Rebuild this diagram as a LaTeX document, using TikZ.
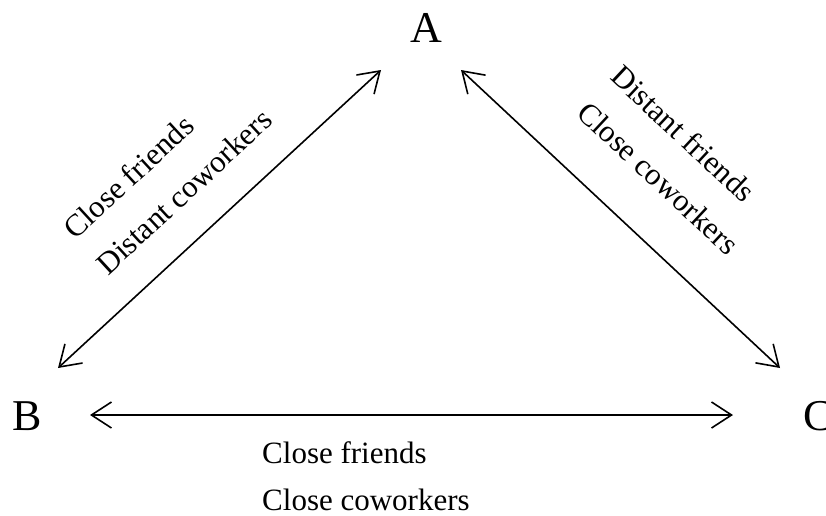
\documentclass[tikz,border=0pt]{standalone}
\usepackage{fontspec}
\setmainfont{Liberation Serif}
\usetikzlibrary{arrows.meta}
\begin{document}
\begin{tikzpicture}[x=1pt,y=-1pt,
  vertex/.style={font=\fontsize{44}{48}\selectfont, inner sep=0pt, anchor=base},
  tag/.style={font=\fontsize{31}{36}\selectfont, inner sep=0pt},
  link/.style={line width=1.6pt, {Straight Barb[length=20pt,width=26pt,line width=1.6pt]}-{Straight Barb[length=20pt,width=26pt,line width=1.6pt]}}]
  \useasboundingbox[fill=white] (0,0) rectangle (826,515);

  % vertices
  \node[vertex] (A) at (426,42) {A};
  \node[vertex] (B) at (27.5,430) {B};
  \node[vertex, anchor=base west] (C) at (803,430) {C};

  % arrow end points
  \coordinate (ab-a) at (381,70);
  \coordinate (ab-b) at (58,368);
  \coordinate (ac-a) at (461,70);
  \coordinate (ac-c) at (780,368);
  \coordinate (bc-b) at (90,415);
  \coordinate (bc-c) at (733,415);

  \draw[link] (ab-a) -- (ab-b);
  \draw[link] (ac-a) -- (ac-c);
  \draw[link] (bc-b) -- (bc-c);

  % edge labels
  \node[tag, rotate=42.7] (ab1) at (128.5,176.5) {Close friends};
  \node[tag, rotate=42.7] (ab2) at (184,191.5) {Distant coworkers};
  \node[tag, rotate=-43] (ac1) at (683.5,133.5) {Distant friends};
  \node[tag, rotate=-43] (ac2) at (658.5,178) {Close coworkers};
  \node[tag, anchor=base west] (bc1) at (262,463) {Close friends};
  \node[tag, anchor=base west] (bc2) at (262,510) {Close coworkers};
\end{tikzpicture}
\end{document}
